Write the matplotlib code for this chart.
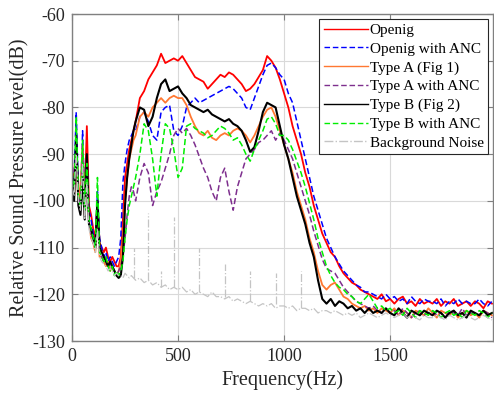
import numpy as np
import matplotlib
matplotlib.use("Agg")
import matplotlib.pyplot as plt

# frequency grid (Hz)
freq = np.concatenate([np.arange(0, 300, 10), np.arange(300, 2000, 20)])

# ---- Openig (red) ----
red_low = [-96, -94, -88, -97, -99, -90, -99, -84, -101, -103,
           -106, -108, -100, -109, -110, -111, -110, -112, -113, -112,
           -113, -114, -114, -112, -104, -95, -92, -89, -87, -85]
red_high = [-83, -78, -76.5, -74, -72.5, -71, -68.5, -70.5, -70, -69.5,
            -70, -69, -70.5, -72, -73.5, -74, -74.5, -76, -75, -74,
            -73, -73.5, -72.5, -73, -74, -75, -76.5, -76, -75, -73.5,
            -72, -69, -70, -71.5, -74, -77, -80, -84, -87, -90,
            -94, -97, -101, -104, -107, -109, -111, -112, -114, -115.5,
            -116.5, -117.5, -118, -119, -119.5, -120, -120.5, -121, -120, -121.5,
            -121, -122, -121, -120.5, -122, -121.5, -122.5, -121, -122, -121.5,
            -122, -121, -122.5, -121.5, -122, -121, -122.5, -122, -121.5, -122.5,
            -121.5, -122, -123, -121.5, -122]

# ---- Openig with ANC (blue) ----
blue_low = [-98, -95, -81, -98, -100, -85, -101, -90, -102, -104,
            -107, -109, -98, -108, -110, -112, -111, -113, -112, -113,
            -114, -113, -112, -108, -96, -92, -89, -87, -86, -85]
blue_high = [-85, -82, -81, -83, -86, -87, -81, -80, -79.5, -85,
             -86, -84, -80, -79, -78, -79, -78.5, -78, -77.5, -77,
             -76.5, -76, -75.5, -76, -77, -78, -80, -80.5, -78, -75.5,
             -73, -71, -70.5, -71.5, -73, -74, -77, -79, -83, -87,
             -91, -95, -99, -102, -105, -108, -110, -112, -113.5, -115,
             -116, -117, -118, -118.5, -119.5, -119.5, -120, -120.5, -121, -120,
             -121, -120.5, -121.5, -121, -122, -120.5, -121.5, -122, -121, -121.5,
             -121.5, -122, -121, -122.5, -121.5, -122, -121, -122, -121.5, -122,
             -122, -121, -122, -122.5, -121.5]

# ---- Type A (Fig 1) (orange) ----
orange_low = [-97, -99, -90, -100, -97, -88, -103, -92, -104, -108,
              -109, -111, -103, -112, -112, -113, -114, -113, -115, -114,
              -115, -116, -115, -113, -108, -100, -95, -91, -89, -87]
orange_high = [-86, -82, -81, -82, -80, -79, -78, -79, -78, -77.5,
               -78, -78, -79.5, -82, -84, -85.5, -86, -85, -86.5, -87,
               -86, -85.5, -86, -85, -84.5, -85, -86, -87.5, -86, -84,
               -82, -80.5, -80, -82, -85, -88, -91, -94, -98, -101,
               -104, -108, -111, -115, -118, -119, -118, -117.5, -119, -120.5,
               -121, -122, -122.5, -123, -122.5, -123.5, -123, -124, -123, -123.5,
               -124, -123, -124.5, -123.5, -124, -125, -123.5, -124, -124.5, -123,
               -124, -125, -123.5, -124, -124.5, -123.5, -125, -124, -123.5, -124.5,
               -124, -125, -123.5, -124, -124.5]

# ---- Type A with ANC (purple) ----
purple_low = [-96, -98, -88, -99, -102, -90, -103, -94, -105, -107,
              -109, -110, -101, -111, -112, -113, -112, -114, -113, -115,
              -115, -116, -115, -114, -112, -108, -103, -99, -97, -98]
purple_high = [-100, -95, -92, -94, -101, -98, -96, -93, -90, -86,
               -84.5, -85.5, -84.5, -86, -88, -90.5, -93, -95, -98, -100,
               -95, -93, -98, -102, -97, -94, -91, -90, -89, -87.5,
               -87, -86, -85, -87, -85.5, -87, -89, -91, -94, -97,
               -100, -103, -106.5, -109.5, -112.5, -114.5, -115, -115.5, -117, -118.5,
               -119.5, -120.5, -121.5, -122, -122.5, -123, -122.5, -123.5, -124, -123,
               -124, -123.5, -124.5, -123, -124, -125, -124, -123.5, -124.5, -124,
               -123.5, -124.5, -124, -125, -123.5, -124, -124.5, -123, -124.5, -124,
               -124, -124.5, -123.5, -124, -125]

# ---- Type B (Fig 2) (black) ----
black_low = [-94, -100, -86, -101, -103, -95, -104, -90, -105, -106,
             -108, -110, -100, -110, -111, -112, -113, -114, -113, -114,
             -115, -116, -116.5, -116, -112, -101, -95, -91, -88, -85]
black_high = [-83, -80, -80.5, -84, -82, -78, -75, -74, -76.5, -76,
              -75.5, -77, -78, -79.5, -80, -80.5, -81, -80.5, -81.5, -82,
              -82.5, -83, -82.5, -83.5, -84, -85, -87, -89.5, -88.5, -85,
              -81, -79, -79.5, -80, -84, -88, -91, -95, -99, -102,
              -105, -109, -112, -117, -121, -122, -121, -122.5, -121.5, -122,
              -123, -122.5, -123.5, -123, -124, -123, -124, -123.5, -124, -123,
              -124, -124.5, -123, -124, -125, -123.5, -124, -124.5, -123.5, -124,
              -124.5, -123.5, -124, -125, -124, -123.5, -124.5, -124, -125, -123.5,
              -124, -124.5, -123.5, -124.5, -124]

# ---- Type B with ANC (green) ----
green_low = [-95, -97, -82, -99, -101, -87, -102, -92, -104, -106,
             -108, -110, -95, -111, -112, -113, -112, -114, -115, -114,
             -116, -115, -116, -115, -113, -108, -104, -101, -99, -97]
green_high = [-95, -90, -83.5, -85, -91, -99, -90, -83.5, -84.5, -89,
              -95, -93, -84, -83.5, -84.5, -85, -85.5, -86.5, -86, -85,
              -84, -84.5, -85.5, -87, -86.5, -88, -90, -91.5, -89, -87,
              -85, -82.5, -82, -83.5, -86, -86, -87, -89, -91.5, -94,
              -97, -100.5, -104, -108, -111, -114, -116, -117.5, -118.5, -119,
              -120, -120.5, -121.5, -122, -121, -120, -121.5, -123, -122.5, -123.5,
              -123, -124, -123.5, -124.5, -123, -124, -125, -123.5, -124, -124.5,
              -123.5, -124, -125, -124, -123.5, -124.5, -124, -125, -123.5, -124,
              -124.5, -123.5, -124, -125, -124]

# ---- Background Noise (light gray) ----
gray_low = [-97, -99, -90, -100, -102, -92, -104, -96, -106, -108,
            -109, -111, -106, -112, -113, -113.5, -114, -115, -114.5, -115,
            -116, -115.5, -116, -116, -116.5, -115.5, -116, -116.5, -116, -116.5]
gray_high = [-117, -116.5, -117.5, -117, -118, -117.5, -118.5, -118, -119, -118.5,
             -119, -118.5, -119.5, -119, -120, -119.5, -120, -120.5, -119.5, -120.5,
             -120.5, -121, -120.5, -121.5, -121, -121.5, -122, -121.5, -122, -122.5,
             -122, -122.5, -122, -123, -122.5, -122.5, -123, -122.5, -123.5, -123,
             -123, -123.5, -123, -124, -123.5, -123.5, -124, -123.5, -124, -124.5,
             -124, -124.5, -124, -125, -124.5, -124, -124.5, -125, -124.5, -124,
             -124.5, -125, -124.5, -124, -125, -124.5, -125, -125.5, -124.5, -125,
             -125, -124.5, -125, -125.5, -124.5, -125, -125.5, -125, -124.5, -125,
             -125.5, -125, -124.5, -125, -125.5]
spike_freq = [290, 360, 420, 480, 600, 720, 840, 960, 1080]
spike_top = [-110, -102.5, -115, -103.5, -110, -113.5, -115, -115.5, -115]
spike_base = [-116.5, -117, -118.5, -118.5, -119.5, -120.5, -121.5, -122, -123]

labels = ["Openig", "Openig with ANC", "Type A (Fig 1)", "Type A with ANC",
          "Type B (Fig 2)", "Type B with ANC", "Background Noise"]

plt.rcParams['font.family'] = ['Liberation Serif', 'DejaVu Serif']
plt.rcParams['axes.unicode_minus'] = False

fig = plt.figure(figsize=(4.94, 3.94), dpi=100)
ax = fig.add_axes([72/494, 53/394, 421/494, 327/394])

series = [
    (red_low + red_high, dict(color='#ff0000', ls='-', lw=1.3)),
    (blue_low + blue_high, dict(color='#0000ff', ls=(0, (4, 2)), lw=1.1)),
    (orange_low + orange_high, dict(color='#ff7832', ls='-', lw=1.3)),
    (purple_low + purple_high, dict(color='#7e2f8e', ls=(0, (4, 2)), lw=1.1)),
    (black_low + black_high, dict(color='#000000', ls='-', lw=1.5)),
    (green_low + green_high, dict(color='#00ee00', ls=(0, (4, 2)), lw=1.1)),
    (gray_low + gray_high, dict(color='#c4c4c4', ls='-.', lw=0.9)),
]

handles = []
for (vals, st), lab in zip(series, labels):
    h, = ax.plot(freq, np.array(vals), label=lab, **st)
    handles.append(h)

ax.vlines(spike_freq, spike_base, spike_top, colors='#c4c4c4', linestyles='-.', lw=0.9)

ax.set_xlim(0, 1985)
ax.set_ylim(-130, -60)
ax.set_xticks([0, 500, 1000, 1500])
ax.set_yticks(np.arange(-130, -59, 10))
ax.grid(True, color='#d9d9d9', lw=0.8)
ax.set_axisbelow(True)
for s in ax.spines.values():
    s.set_color('#808080')
    s.set_linewidth(1.0)
ax.tick_params(direction='in', top=True, right=True, length=4, color='#808080',
               labelsize=13, labelcolor='#262626', pad=5)
ax.set_xlabel('Frequency(Hz)', fontsize=14.5, color='#262626', labelpad=4)
ax.set_ylabel('Relative Sound Pressure level(dB)', fontsize=14.5, color='#262626', labelpad=2)

leg = ax.legend(handles=handles, loc='upper right', fontsize=11, frameon=True,
                fancybox=False, framealpha=1, edgecolor='#262626',
                borderaxespad=0.3, handlelength=2.9, handletextpad=0.1,
                labelspacing=0.33, borderpad=0.3)
leg.get_frame().set_linewidth(0.8)
for line in leg.get_lines():
    line.set_linewidth(1.0)

fig.savefig('out.png', dpi=100)
